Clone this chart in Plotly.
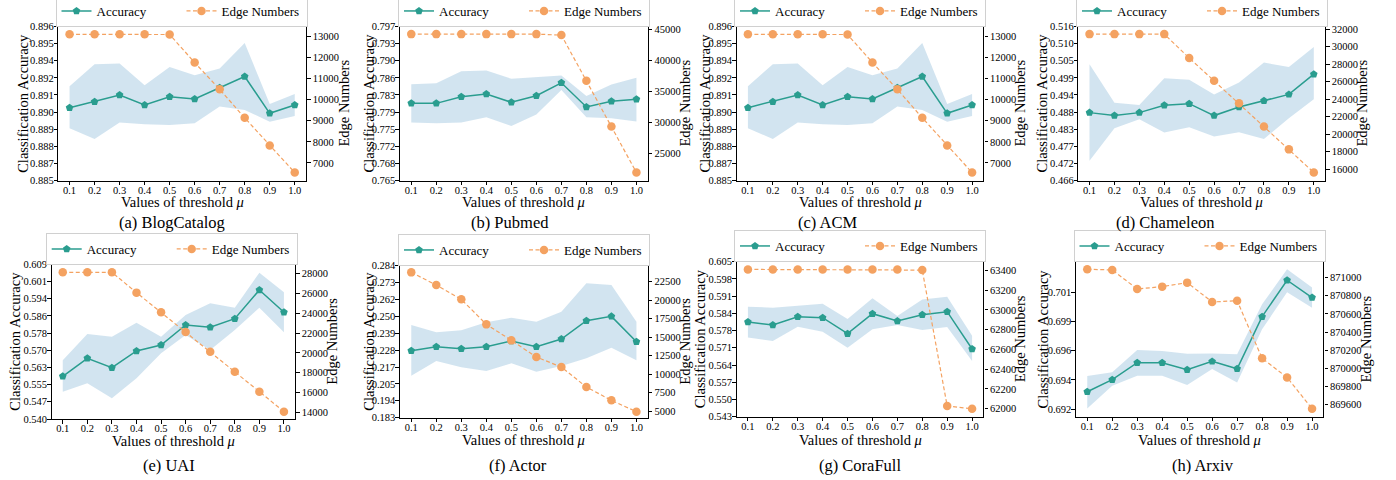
import numpy as np
import plotly.graph_objects as go

# ---------------- data ----------------
thresholds = [0.1, 0.2, 0.3, 0.4, 0.5, 0.6, 0.7, 0.8, 0.9, 1.0]
threshold_labels = ["0.1", "0.2", "0.3", "0.4", "0.5", "0.6", "0.7", "0.8", "0.9", "1.0"]

captions = ["(a) BlogCatalog", "(b) Pubmed", "(c) ACM", "(d) Chameleon",
            "(e) UAI", "(f) Actor", "(g) CoraFull", "(h) Arxiv"]

blog_acc = [0.89020, 0.89063, 0.89111, 0.89039, 0.89098, 0.89082, 0.89162, 0.89243, 0.88980, 0.89039]
blog_hi = [0.89174, 0.89330, 0.89335, 0.89181, 0.89311, 0.89252, 0.89300, 0.89482, 0.89046, 0.89117]
blog_lo = [0.88874, 0.88796, 0.88914, 0.88902, 0.88897, 0.88909, 0.89028, 0.89004, 0.88919, 0.88961]
blog_edges = [13100, 13100, 13100, 13100, 13090, 11760, 10490, 9140, 7830, 6545]
blog_ticks = ["0.885", "0.887", "0.888", "0.889", "0.890", "0.891", "0.892", "0.894", "0.895", "0.896"]

pubmed_acc = [0.78103, 0.78103, 0.78241, 0.78296, 0.78124, 0.78262, 0.78530, 0.78028, 0.78145, 0.78186]
pubmed_hi = [0.78502, 0.78523, 0.78771, 0.78785, 0.78613, 0.78640, 0.78681, 0.78255, 0.78496, 0.78633]
pubmed_lo = [0.77704, 0.77690, 0.77704, 0.77814, 0.77635, 0.77869, 0.78379, 0.77814, 0.77794, 0.77725]
pubmed_edges = [44305, 44305, 44305, 44305, 44305, 44305, 44144, 36765, 29385, 21952]
pubmed_ticks = ["0.765", "0.768", "0.772", "0.775", "0.779", "0.783", "0.786", "0.790", "0.793", "0.797"]

acm_acc = [0.89020, 0.89063, 0.89111, 0.89039, 0.89098, 0.89082, 0.89162, 0.89243, 0.88980, 0.89039]
acm_hi = [0.89174, 0.89330, 0.89335, 0.89181, 0.89311, 0.89252, 0.89300, 0.89482, 0.89046, 0.89117]
acm_lo = [0.88874, 0.88796, 0.88914, 0.88902, 0.88897, 0.88909, 0.89028, 0.89004, 0.88919, 0.88961]
acm_edges = [13100, 13100, 13100, 13100, 13090, 11760, 10490, 9140, 7830, 6545]
acm_ticks = ["0.885", "0.887", "0.888", "0.889", "0.890", "0.891", "0.892", "0.894", "0.895", "0.896"]

cham_acc = [0.48804, 0.48708, 0.48804, 0.49041, 0.49095, 0.48708, 0.48987, 0.49191, 0.49396, 0.50052]
cham_hi = [0.50374, 0.49127, 0.49052, 0.49923, 0.49869, 0.49396, 0.49783, 0.50428, 0.50288, 0.50933]
cham_lo = [0.47245, 0.48299, 0.48589, 0.48159, 0.48331, 0.48030, 0.48170, 0.47944, 0.48622, 0.49234]
cham_edges = [31433, 31433, 31433, 31433, 28709, 26099, 23527, 20879, 18270, 15622]
cham_ticks = ["0.466", "0.472", "0.477", "0.483", "0.488", "0.494", "0.499", "0.505", "0.510", "0.516"]

uai_acc = [0.55904, 0.56707, 0.56290, 0.57034, 0.57301, 0.58194, 0.58090, 0.58476, 0.59755, 0.58759]
uai_hi = [0.56617, 0.57792, 0.57673, 0.58298, 0.57673, 0.58640, 0.59160, 0.58967, 0.60528, 0.59651]
uai_lo = [0.55220, 0.55591, 0.54922, 0.55814, 0.56930, 0.57748, 0.57078, 0.57971, 0.58967, 0.57867]
uai_edges = [28135, 28135, 28135, 26082, 24096, 22111, 20125, 18106, 16087, 14067]
uai_ticks = ["0.540", "0.547", "0.555", "0.563", "0.570", "0.578", "0.586", "0.594", "0.601", "0.609"]

actor_acc = [0.22752, 0.23018, 0.22885, 0.23018, 0.23394, 0.23018, 0.23527, 0.24746, 0.25033, 0.23350]
actor_hi = [0.24458, 0.23970, 0.24103, 0.24635, 0.24945, 0.24679, 0.25344, 0.27226, 0.27115, 0.24679]
actor_lo = [0.21091, 0.22066, 0.21645, 0.21401, 0.21911, 0.21357, 0.21733, 0.22243, 0.22951, 0.22121]
actor_edges = [23763, 22049, 20110, 16727, 14562, 12307, 10954, 8248, 6444, 4910]
actor_ticks = ["0.183", "0.194", "0.205", "0.217", "0.228", "0.239", "0.250", "0.262", "0.273", "0.284"]

cora_acc = [0.58087, 0.57967, 0.58300, 0.58260, 0.57620, 0.58420, 0.58127, 0.58380, 0.58500, 0.57007]
cora_hi = [0.58700, 0.58660, 0.58740, 0.58820, 0.58207, 0.59033, 0.58327, 0.58993, 0.59100, 0.57540]
cora_lo = [0.57473, 0.57327, 0.57900, 0.57700, 0.57060, 0.57793, 0.57967, 0.57767, 0.57887, 0.56527]
cora_edges = [63410, 63410, 63410, 63410, 63410, 63410, 63410, 63403, 62027, 62000]
cora_ticks = ["0.543", "0.550", "0.557", "0.564", "0.571", "0.578", "0.584", "0.591", "0.598", "0.605"]

arxiv_acc = [0.69321, 0.69419, 0.69557, 0.69557, 0.69500, 0.69568, 0.69508, 0.69932, 0.70228, 0.70087]
arxiv_hi = [0.69449, 0.69479, 0.69660, 0.69652, 0.69631, 0.69633, 0.69625, 0.70032, 0.70317, 0.70168]
arxiv_lo = [0.69185, 0.69370, 0.69451, 0.69451, 0.69375, 0.69506, 0.69397, 0.69829, 0.70130, 0.70005]
arxiv_edges = [871092, 871085, 870875, 870901, 870945, 870732, 870746, 870111, 869901, 869556]
arxiv_ticks = ["0.692", "0.694", "0.696", "0.699", "0.701"]

datasets = [
    (blog_acc, blog_hi, blog_lo, blog_edges, blog_ticks),
    (pubmed_acc, pubmed_hi, pubmed_lo, pubmed_edges, pubmed_ticks),
    (acm_acc, acm_hi, acm_lo, acm_edges, acm_ticks),
    (cham_acc, cham_hi, cham_lo, cham_edges, cham_ticks),
    (uai_acc, uai_hi, uai_lo, uai_edges, uai_ticks),
    (actor_acc, actor_hi, actor_lo, actor_edges, actor_ticks),
    (cora_acc, cora_hi, cora_lo, cora_edges, cora_ticks),
    (arxiv_acc, arxiv_hi, arxiv_lo, arxiv_edges, arxiv_ticks),
]

# ---------------- axis scales ----------------
acc_ranges = [(0.885, 0.896), (0.765, 0.797), (0.885, 0.896), (0.466, 0.516),
              (0.540, 0.609), (0.183, 0.284), (0.543, 0.605), (0.69118, 0.70374)]
acc_tick_span = [None, None, None, None, None, None, None, (0.6918, 0.7013)]
edge_ranges = [(6168, 13471), (20668, 45535), (6168, 13471), (14714, 32303),
               (13327, 28942), (4098, 24665), (61919, 63488), (869468, 871169)]
edge_tick_specs = [(7000, 13000, 1000), (25000, 45000, 5000), (7000, 13000, 1000), (16000, 32000, 2000),
                   (14000, 28000, 2000), (5000, 22500, 2500), (62000, 63400, 200), (869600, 871000, 200)]

# ---------------- layout geometry (pixels) ----------------
W, H = 1396, 480
# plot boxes: left, right, top, bottom
boxes = [(58.3, 306.0, 26.5, 180.5), (400.0, 647.7, 26.5, 180.5), (736.7, 983.3, 26.5, 180.5), (1078.3, 1325.0, 26.5, 180.5),
         (51.7, 295.0, 264.3, 419.0), (400.0, 647.7, 265.7, 417.7), (736.7, 983.3, 261.7, 416.7), (1076.0, 1323.3, 262.3, 416.7)]
left_title_x = [23.3, 369, 705, 1042, 15, 369, 700, 1042]
right_title_x = [344, 685, 1020, 1362, 332, 685, 1020, 1365]
caption_x = [172, 510, 827, 1165, 169, 518, 860, 1203]
caption_y = [222, 222, 222, 222, 465, 465, 465, 465]
xtitle_y = [201.5, 201.5, 201.5, 201.5, 440.5, 439.5, 439.5, 439.5]
legend_cx = [181.5, 524, 860, 1202, 171.7, 524, 860, 1199.5]
legend_top = [-5, -5, -5, -5, 233, 234, 230, 230]

FONT = "Liberation Serif, Times New Roman, serif"
TEAL = "#2a9d8f"
ORANGE = "#f4a261"
BAND = "rgba(31,119,180,0.2)"
TICKFONT = dict(family=FONT, size=10.5, color="black")


def aid(p, n):
    return p if n == 1 else f"{p}{n}"


def lkey(p, n):
    return f"{p}axis" if n == 1 else f"{p}axis{n}"


fig = go.Figure()
layout = dict(template="none", width=W, height=H, autosize=False,
              margin=dict(l=0, r=0, t=0, b=0, pad=0, autoexpand=False),
              paper_bgcolor="white", plot_bgcolor="white",
              font=dict(family=FONT, color="black"),
              annotations=[])

for k, (acc, hi, lo, edges, ticks) in enumerate(datasets):
    xn = k + 1
    yl = 2 * k + 1
    yr = 2 * k + 2
    leg = "legend" if k == 0 else f"legend{k + 1}"
    xa, ya, yb = aid("x", xn), aid("y", yl), aid("y", yr)

    fig.add_trace(go.Scatter(x=thresholds, y=lo, xaxis=xa, yaxis=ya, mode="lines",
                             line=dict(width=0, color=BAND), showlegend=False, hoverinfo="skip"))
    fig.add_trace(go.Scatter(x=thresholds, y=hi, xaxis=xa, yaxis=ya, mode="lines",
                             line=dict(width=0, color=BAND), fill="tonexty", fillcolor=BAND,
                             showlegend=False, hoverinfo="skip"))
    fig.add_trace(go.Scatter(x=thresholds, y=acc, xaxis=xa, yaxis=ya, mode="lines+markers",
                             name="Accuracy", legend=leg, legendrank=1,
                             line=dict(color=TEAL, width=1.5),
                             marker=dict(symbol="pentagon", size=8, color=TEAL)))
    fig.add_trace(go.Scatter(x=thresholds, y=edges, xaxis=xa, yaxis=yb, mode="lines+markers",
                             name="Edge Numbers", legend=leg, legendrank=2,
                             line=dict(color=ORANGE, width=1.2, dash="4px,2.5px"),
                             marker=dict(symbol="circle", size=8.5, color=ORANGE)))

    l, r, t, b = boxes[k]
    xdom = [l / W, r / W]
    ydom = [1 - b / H, 1 - t / H]

    layout[lkey("x", xn)] = dict(domain=xdom, anchor=ya, range=[0.055, 1.045], automargin=False,
                                 tickvals=thresholds, ticktext=threshold_labels,
                                 ticks="outside", ticklen=3.5, tickwidth=0.8, tickcolor="black",
                                 ticklabelstandoff=-4,
                                 showline=True, linecolor="black", linewidth=1.1, mirror=True,
                                 showgrid=False, zeroline=False, tickfont=TICKFONT)
    lo_r, hi_r = acc_ranges[k]
    if acc_tick_span[k] is None:
        tv = list(np.linspace(lo_r, hi_r, len(ticks)))
    else:
        tv = list(np.linspace(acc_tick_span[k][0], acc_tick_span[k][1], len(ticks)))
    layout[lkey("y", yl)] = dict(domain=ydom, anchor=xa, range=[lo_r, hi_r], automargin=False,
                                 tickvals=tv, ticktext=ticks,
                                 ticks="outside", ticklen=3.5, tickwidth=0.8, tickcolor="black",
                                 ticklabelstandoff=-2,
                                 showline=True, linecolor="black", linewidth=1.1,
                                 showgrid=False, zeroline=False, tickfont=TICKFONT)
    e0, e1, es = edge_tick_specs[k]
    layout[lkey("y", yr)] = dict(overlaying=ya, side="right", anchor=xa, automargin=False,
                                 range=list(edge_ranges[k]),
                                 tickvals=list(range(e0, e1 + 1, es)), tickformat="d",
                                 ticks="outside", ticklen=3.5, tickwidth=0.8, tickcolor="black",
                                 showline=True, linecolor="black", linewidth=1.4,
                                 showgrid=False, zeroline=False, tickfont=TICKFONT)

    layout[leg] = dict(orientation="h", x=legend_cx[k] / W, xanchor="center",
                       y=1 - legend_top[k] / H, yanchor="top", traceorder="normal",
                       bgcolor="white", bordercolor="#d0d0d0", borderwidth=1,
                       font=dict(family=FONT, size=13, color="black"),
                       entrywidth=80, entrywidthmode="pixels",
                       itemwidth=30, tracegroupgap=0)

    ymid = 1 - (t + b) / 2 / H
    layout["annotations"] += [
        dict(text="Classification Accuracy", x=left_title_x[k] / W, y=ymid, xref="paper", yref="paper",
             textangle=-90, showarrow=False, xanchor="center", yanchor="middle",
             font=dict(family=FONT, size=14.5, color="black")),
        dict(text="Edge Numbers", x=right_title_x[k] / W, y=ymid, xref="paper", yref="paper",
             textangle=-90, showarrow=False, xanchor="center", yanchor="middle",
             font=dict(family=FONT, size=14.5, color="black")),
        dict(text="Values of threshold <i>μ</i>", x=(l + r) / 2 / W, y=1 - xtitle_y[k] / H,
             xref="paper", yref="paper", showarrow=False, xanchor="center", yanchor="middle",
             font=dict(family=FONT, size=14.5, color="black")),
        dict(text=captions[k], x=caption_x[k] / W, y=1 - caption_y[k] / H,
             xref="paper", yref="paper", showarrow=False, xanchor="center", yanchor="middle",
             font=dict(family=FONT, size=16.5, color="black")),
    ]

fig.update_layout(**layout)
fig.write_html("out.html", config={"displayModeBar": False},
               post_script="document.body.style.margin='0';document.body.style.overflow='hidden';")
